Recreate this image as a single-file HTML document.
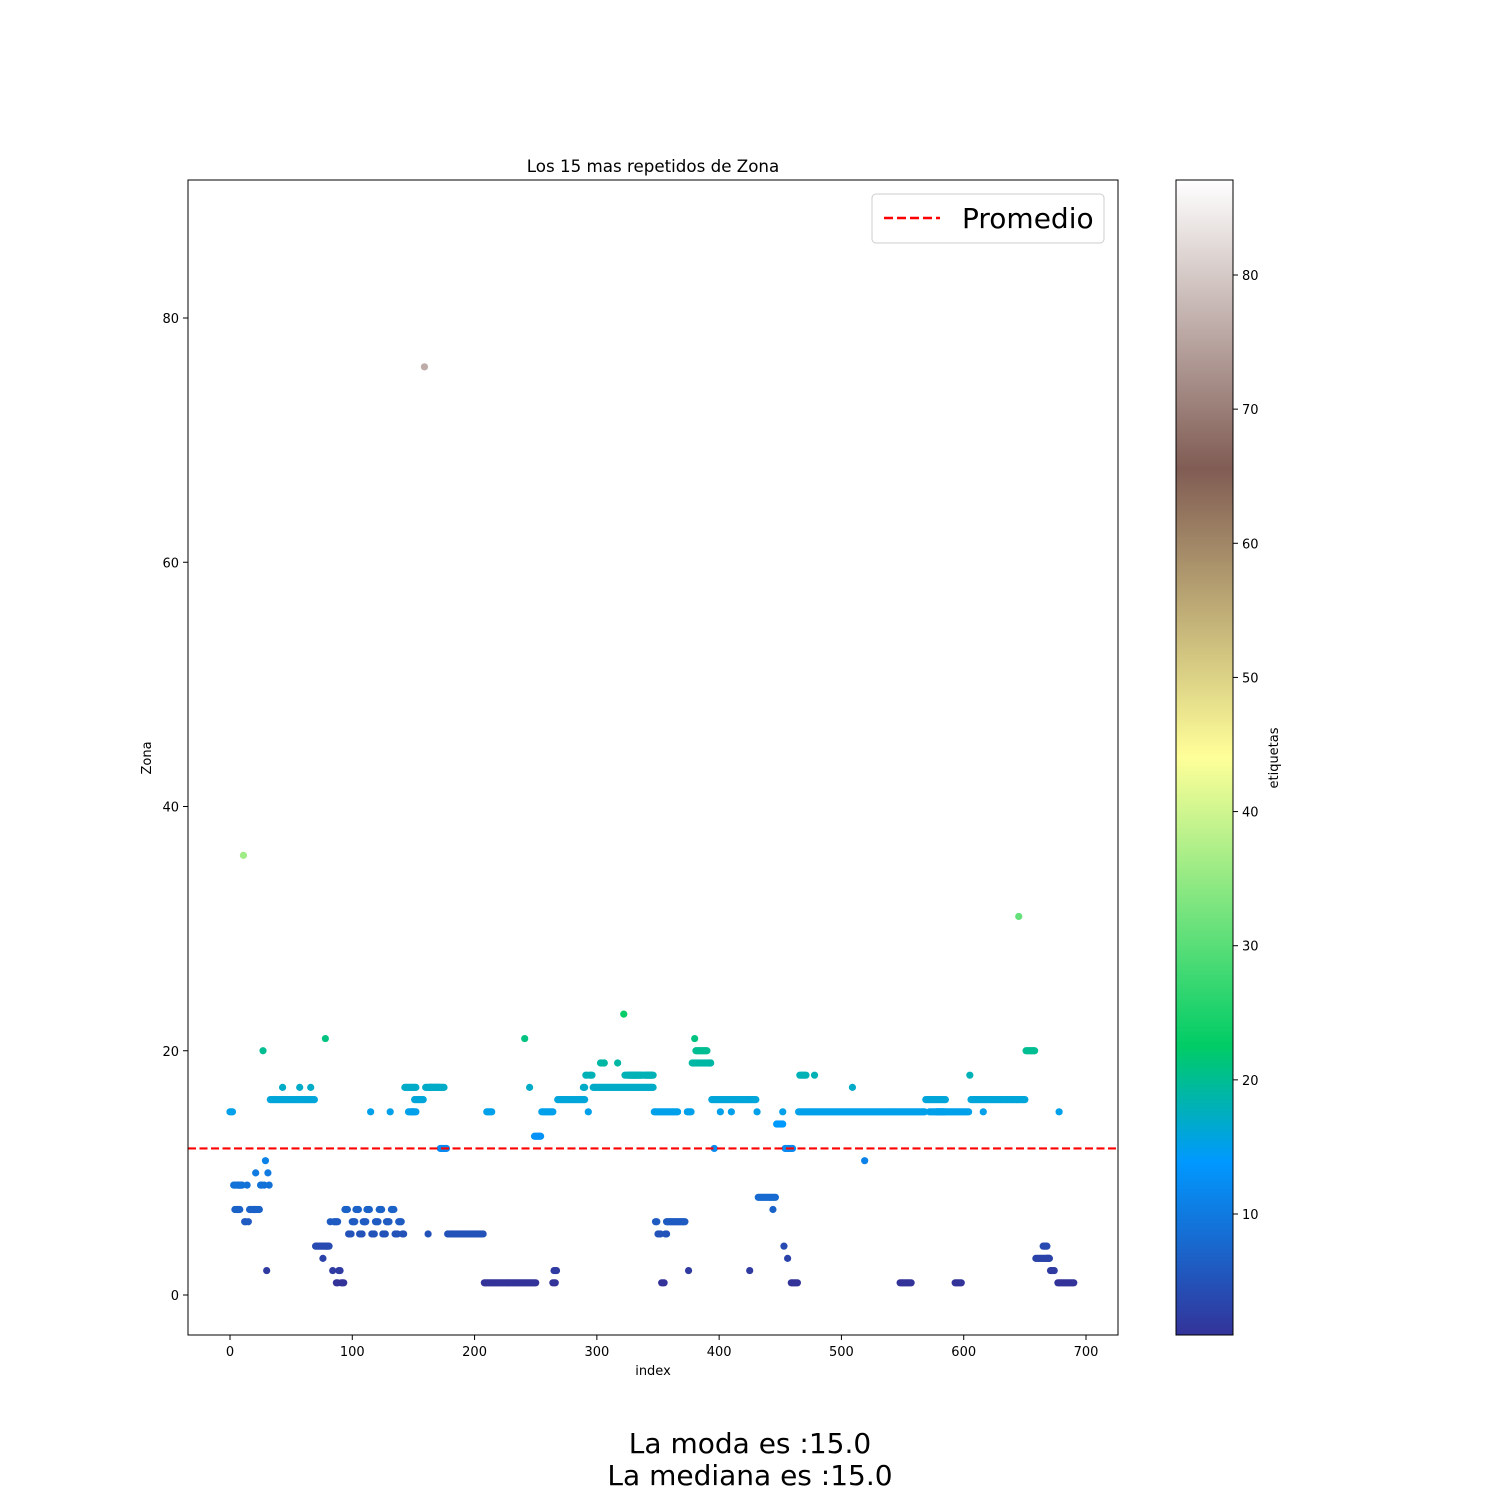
<!DOCTYPE html>
<html><head><meta charset="utf-8"><style>
html,body{margin:0;padding:0;background:#fff;}
svg{display:block;font-family:"DejaVu Sans","Liberation Sans",sans-serif;}
</style></head><body>
<svg id="chart" width="1500" height="1500" viewBox="0 0 1500 1500">
<defs>
<linearGradient id="terrain" x1="0" y1="1" x2="0" y2="0">
<stop offset="0" stop-color="rgb(51,51,153)"/>
<stop offset="0.15" stop-color="rgb(0,153,255)"/>
<stop offset="0.25" stop-color="rgb(0,204,102)"/>
<stop offset="0.5" stop-color="rgb(255,255,153)"/>
<stop offset="0.75" stop-color="rgb(128,92,84)"/>
<stop offset="1" stop-color="rgb(255,255,255)"/>
</linearGradient>
</defs>
<text x="653" y="172" font-size="16.7" text-anchor="middle">Los 15 mas repetidos de Zona</text>
<g id="points"></g>
<g id="axes"></g>
<rect x="188" y="180" width="930" height="1155" fill="none" stroke="#000" stroke-width="1"/>
<text x="653" y="1375" font-size="13" text-anchor="middle">index</text>
<text transform="translate(151,758) rotate(-90)" font-size="13" text-anchor="middle">Zona</text>
<g>
<rect x="872" y="194" width="232" height="49" rx="4" fill="#fff" stroke="#ccc"/>
<line x1="884" y1="218" x2="940" y2="218" stroke="red" stroke-width="2.5" stroke-dasharray="9,4"/>
<text x="962" y="228" font-size="28">Promedio</text>
</g>
<rect x="1176" y="180" width="57" height="1155" fill="url(#terrain)" stroke="#000"/>
<g id="cbticks"></g>
<text transform="translate(1278,758) rotate(-90)" font-size="13" text-anchor="middle">etiquetas</text>
<text x="750" y="1453" font-size="28" text-anchor="middle">La moda es :15.0</text>
<text x="750" y="1485" font-size="28" text-anchor="middle">La mediana es :15.0</text>
</svg>
<script>
const xTicks=[0,100,200,300,400,500,600,700];
const yTicks=[0,20,40,60,80];
const cbTicks=[10,20,30,40,50,60,70,80];
const meanValue=12;
// runs: [startIndex, endIndex, value]
const runStarts=[0,3,4,7,10,11,12,14,15,16,19,21,22,25,27,28,29,30,31,32,33,43,57,66,70,76,78,79,82,84,85,87,89,91,94,97,100,103,106,109,112,115,116,119,122,125,128,131,132,135,138,141,143,146,149,151,153,159,160,162,163,172,178,208,210,241,245,249,255,264,265,268,289,291,293,294,297,303,306,317,322,323,326,330,340,347,348,350,353,356,357,374,375,378,380,381,386,391,394,396,401,410,425,431,432,444,447,452,453,454,456,459,465,466,478,509,519,546,548,558,569,572,578,586,593,601,605,606,616,645,651,659,665,668,671,677,678];
const runEnds=[2,9,8,9,10,11,13,14,15,18,21,21,24,26,27,28,29,30,31,32,69,43,57,66,79,76,78,81,82,84,88,88,90,93,96,99,102,105,108,111,114,115,118,121,124,127,130,131,134,137,140,142,152,150,152,152,158,159,175,162,171,177,207,250,214,241,245,254,264,266,267,290,290,292,293,296,346,306,306,317,322,330,336,346,345,366,349,352,355,357,372,377,375,393,380,385,390,393,430,396,401,410,425,431,446,444,452,452,453,460,456,464,545,471,478,509,519,557,557,568,585,585,584,600,598,604,605,650,616,645,658,670,668,670,674,690,678];
const runValues=[15,9,7,9,9,36,6,9,6,7,7,10,7,9,20,9,11,2,10,9,16,17,17,17,4,3,21,4,6,2,6,1,2,1,7,5,6,7,5,6,7,15,5,6,7,5,6,15,7,5,6,5,17,15,15,16,16,76,17,5,17,12,5,1,15,21,17,13,15,1,2,16,17,18,15,18,17,19,19,19,23,18,18,18,18,15,6,5,1,5,6,15,2,19,21,20,20,19,16,12,15,15,2,15,8,7,14,15,4,12,3,1,15,18,18,17,11,15,1,15,16,15,15,15,1,15,18,16,15,31,20,3,4,3,2,1,15];
const NS='http://www.w3.org/2000/svg';
const X0=188,X1=1118,Y0=180,Y1=1335;
function sx(v){return 230+v*(1086-230)/700;}
function sy(v){return 1295-v*(1295-318)/80;}
function cy(v){return 1214-(v-10)*(1214-275)/70;}
const cmap=[[0,[51,51,153]],[0.15,[0,153,255]],[0.25,[0,204,102]],[0.5,[255,255,153]],[0.75,[128,92,84]],[1,[255,255,255]]];
function color(v){let t=(v-1)/(87-1);t=Math.max(0,Math.min(1,t));for(let i=0;i<cmap.length-1;i++){const a=cmap[i],b=cmap[i+1];if(t<=b[0]){const f=(t-a[0])/(b[0]-a[0]);return 'rgb('+a[1].map((c,k)=>Math.round(c+(b[1][k]-c)*f)).join(',')+')';}}return '#fff';}
function mk(tag,attrs,parent){const e=document.createElementNS(NS,tag);for(const k in attrs)e.setAttribute(k,attrs[k]);parent.appendChild(e);return e;}
const pts=document.getElementById('points');
for(let r=0;r<runStarts.length;r++){
  for(let i=runStarts[r];i<=runEnds[r];i++){
    const c=mk('circle',{cx:sx(i),cy:sy(runValues[r]),r:3.6,fill:color(runValues[r])},pts);
    
    
  }
}
const ax=document.getElementById('axes');
const ml=mk('line',{x1:X0,x2:X1,y1:sy(meanValue),y2:sy(meanValue),stroke:'red','stroke-width':2.2,'stroke-dasharray':'8,3.5'},ax);


xTicks.forEach(v=>{const x=sx(v);mk('line',{x1:x,x2:x,y1:Y1,y2:Y1+5,stroke:'#000'},ax);
  const t=mk('text',{x:x,y:Y1+21,'font-size':13,'text-anchor':'middle'},ax);t.textContent=v;
  
  });
yTicks.forEach(v=>{const y=sy(v);mk('line',{x1:X0-5,x2:X0,y1:y,y2:y,stroke:'#000'},ax);
  const t=mk('text',{x:X0-9,y:y+5,'font-size':13,'text-anchor':'end'},ax);t.textContent=v;
  
  });
const cb=document.getElementById('cbticks');
cbTicks.forEach(v=>{const y=cy(v);mk('line',{x1:1233,x2:1238,y1:y,y2:y,stroke:'#000'},cb);
  const t=mk('text',{x:1242,y:y+5,'font-size':13},cb);t.textContent=v;
  
  });
</script>
</body></html>
